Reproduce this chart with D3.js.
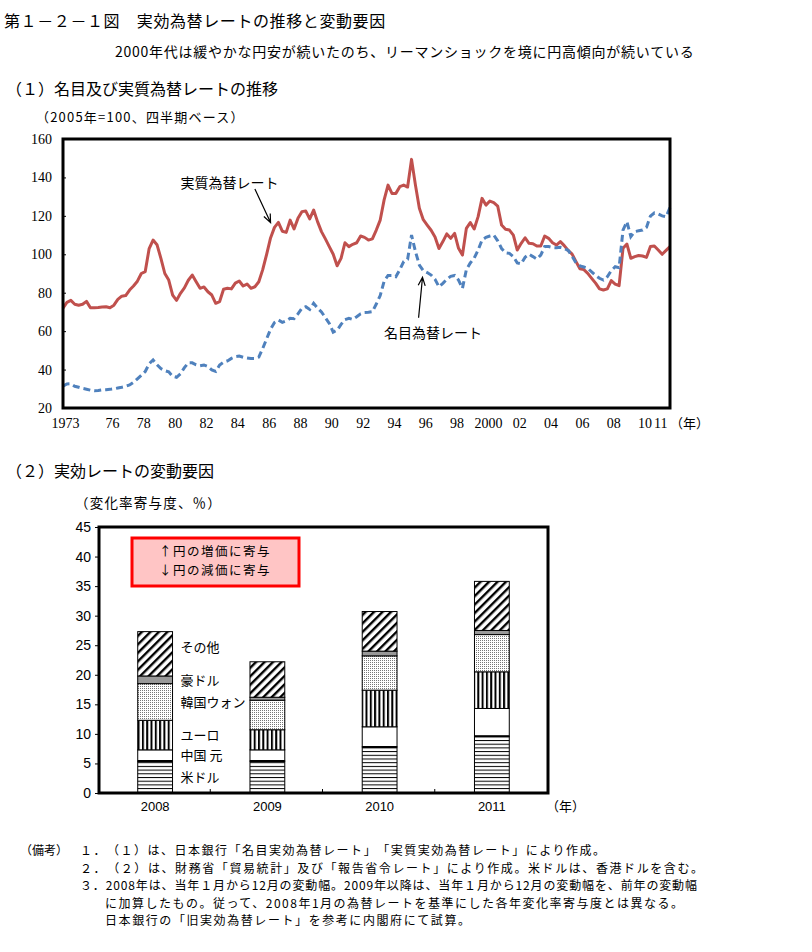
<!DOCTYPE html>
<html>
<head>
<meta charset="utf-8">
<script src="https://d3js.org/d3.v7.min.js"></script>
<style>
  body { margin: 0; background: #fff; }
  text { font-family: "Noto Sans CJK JP", sans-serif; fill: #000; text-spacing-trim: space-all; }
  .num { font-family: "Liberation Serif", serif; }
</style>
</head>
<body>
<script>
// (1) quarterly rates, 1973Q1 - 2011Q4 (2005 = 100)
const realRate = [
  72, 75, 76, 74, 73.5, 74, 75.5, 72.2, 72.2, 72.3, 72.6, 72.7, 72.2, 73.5, 76.5, 78.2,
  78.5, 81.4, 83.5, 86, 90, 91, 103, 107.4, 105, 97.9, 90, 86.6, 78.8, 76, 79.7, 82.5,
  86.5, 89.2, 85.7, 82.3, 83, 80.5, 78.8, 74.5, 75.4, 81.8, 82.3, 82, 85, 86.1, 83.5, 84.5,
  82.3, 83.1, 85.7, 92, 100, 108.5, 114, 116.6, 112, 111.4, 117.8, 113.2, 118.7, 122.2, 122.5, 118.4,
  123, 117, 111.8, 108, 104, 100, 94, 97.9, 106, 104, 105.2, 106, 109.5, 108.8, 107.4, 108,
  112.6, 117.8, 128.3, 136, 131.7, 131.7, 135.2, 136, 135, 149.4, 136, 124, 118, 115.2, 112.5, 109,
  103, 106.6, 110.6, 108.3, 110.9, 103.1, 99.6, 113.5, 116.5, 113.2, 119.6, 129.1, 125.6, 127.7, 126.9, 125.1,
  115.2, 113, 112.6, 110, 102.2, 105.7, 108.6, 105.7, 105.5, 104.3, 104.3, 109.5, 108.3, 106, 104.8, 106.6,
  104.5, 102, 100.1, 96.2, 92.5, 92, 90.1, 87.5, 85, 82, 81.4, 82, 86.3, 84.5, 83.7, 103.1,
  105.3, 97.9, 98.8, 99.4, 99.1, 98.4, 104, 104.3, 102.2, 100, 102, 104
];
const nominalRate = [
  31.4, 32.5, 32.6, 31.3, 30.8, 30.2, 29.8, 29.3, 29, 29.1, 29.4, 29.5, 29.7, 30, 30.4, 30.8,
  31.3, 32, 33.4, 35.2, 37, 39, 43, 45, 42.5, 40.5, 39.4, 38.8, 36.5, 36, 37.8, 41,
  43.5, 43.5, 42.5, 42, 42.4, 41.6, 39.8, 39, 42.4, 43.8, 44.5, 45.8, 46.7, 47, 46.4, 46,
  45.8, 45.8, 46.5, 51, 56, 61, 64.5, 65.8, 64.6, 65.4, 66.7, 66.5, 69, 71.9, 72.7, 71.3,
  74.5, 72, 70, 67, 64, 59.5, 60.5, 63.5, 66, 66.7, 66.1, 67.5, 69, 69.7, 69.8, 70.1,
  74.1, 78.5, 86, 89, 89, 88.3, 92, 96.2, 97.4, 110, 101.4, 94.4, 91.5, 90.5, 89.2, 87,
  83.1, 84.9, 87, 88.5, 89, 86.6, 82.3, 92, 95.5, 98, 102.2, 107.4, 108.8, 109.5, 110, 107,
  103, 100.8, 100.5, 98.8, 95.5, 95, 98.5, 100, 98.8, 97.5, 99.6, 104, 104, 103.5, 103.4, 103.6,
  103.1, 102, 99, 95.5, 94, 93.4, 92.7, 90.8, 89, 87.5, 86.6, 88.3, 91.5, 93.5, 93, 112.6,
  117, 109.2, 111.8, 112.2, 112.6, 114, 119.9, 121.5, 121, 120, 119.5, 124.4
];
const xTickYears = [1973, 1976, 1978, 1980, 1982, 1984, 1986, 1988, 1990, 1992, 1994, 1996, 1998, 2000, 2002, 2004, 2006, 2008, 2010, 2011];
const xTickLabels = ["1973", "76", "78", "80", "82", "84", "86", "88", "90", "92", "94", "96", "98", "2000", "02", "04", "06", "08", "10", "11"];
const yTicks1 = [20, 40, 60, 80, 100, 120, 140, 160];

// (2) contributions to change, %
const barYears = ["2008", "2009", "2010", "2011"];
const currencies = ["米ドル", "中国 元", "ユーロ", "韓国ウォン", "豪ドル", "その他"];
const usd   = [5.4, 5.4, 7.8, 9.6];
const cny   = [1.9, 1.9, 3.4, 4.7];
const eur   = [5.0, 3.4, 6.2, 6.2];
const krw   = [6.2, 5.0, 5.8, 6.3];
const aud   = [1.3, 0.5, 0.8, 0.7];
const other = [7.5, 6.0, 6.7, 8.3];
const yTicks2 = [0, 5, 10, 15, 20, 25, 30, 35, 40, 45];

const notes = [
  "１．（１）は、日本銀行「名目実効為替レート」「実質実効為替レート」により作成。",
  "２．（２）は、財務省「貿易統計」及び「報告省令レート」により作成。米ドルは、香港ドルを含む。",
  "３．2008年は、当年１月から12月の変動幅。2009年以降は、当年１月から12月の変動幅を、前年の変動幅",
  "に加算したもの。従って、2008年1月の為替レートを基準にした各年変化率寄与度とは異なる。",
  "日本銀行の「旧実効為替レート」を参考に内閣府にて試算。"
];

const svg = d3.select("body").append("svg")
  .attr("width", 812).attr("height", 952);

// ---- headings
svg.append("text").attr("x", 4).attr("y", 27).style("font-size", "16px")
  .style("letter-spacing", "0.6px").text("第１－２－１図　実効為替レートの推移と変動要因");
svg.append("text").attr("x", 115).attr("y", 57).style("font-size", "14px")
  .style("letter-spacing", "0.75px")
  .text("2000年代は緩やかな円安が続いたのち、リーマンショックを境に円高傾向が続いている");
svg.append("text").attr("x", 6).attr("y", 95).style("font-size", "16px")
  .text("（１）名目及び実質為替レートの推移");
svg.append("text").attr("x", 36).attr("y", 122).style("font-size", "13px")
  .style("letter-spacing", "1.2px").text("（2005年=100、四半期ベース）");

// ---- chart 1
const x1 = d3.scaleLinear().domain([0, realRate.length - 1]).range([63, 670]);
const y1 = d3.scaleLinear().domain([20, 160]).range([408, 139]);

const yAxis1 = svg.append("g").attr("transform", "translate(63,0)")
  .call(d3.axisLeft(y1).tickValues(yTicks1).tickSize(-3).tickPadding(11));
yAxis1.select(".domain").remove();
yAxis1.selectAll("text").attr("class", "num").style("font-size", "14px");
yAxis1.selectAll("line").attr("stroke", "#000");

const xAxis1 = svg.append("g").attr("transform", "translate(2,408)")
  .call(d3.axisBottom(x1)
    .tickValues(xTickYears.map(yr => (yr - 1973) * 4))
    .tickFormat((d, i) => xTickLabels[i]).tickSize(0).tickPadding(10));
xAxis1.select(".domain").remove();
xAxis1.selectAll("text").attr("class", "num").style("font-size", "14px");
svg.append("text").attr("x", 670).attr("y", 428).style("font-size", "13px").text("（年）");

const line1 = d3.line().x((d, i) => x1(i)).y(d => y1(d));
svg.append("path").datum(realRate).attr("d", line1)
  .attr("fill", "none").attr("stroke", "#c0504d").attr("stroke-width", 3)
  .attr("stroke-linejoin", "round");
svg.append("path").datum(nominalRate).attr("d", line1)
  .attr("fill", "none").attr("stroke", "#4f81bd").attr("stroke-width", 3)
  .attr("stroke-dasharray", "7,4");

svg.append("rect").attr("x", 63).attr("y", 139).attr("width", 607).attr("height", 269)
  .attr("fill", "none").attr("stroke", "#000").attr("stroke-width", 3);

// annotations
function arrow(from, to) {
  const [x0, yA] = from, [xB, yB] = to;
  const ang = Math.atan2(yB - yA, xB - x0);
  const h = 9, s = 0.4;
  svg.append("path")
    .attr("d", `M${x0},${yA}L${xB},${yB}` +
      `M${xB - h * Math.cos(ang - s)},${yB - h * Math.sin(ang - s)}L${xB},${yB}` +
      `L${xB - h * Math.cos(ang + s)},${yB - h * Math.sin(ang + s)}`)
    .attr("fill", "none").attr("stroke", "#000").attr("stroke-width", 1.2);
}
svg.append("text").attr("x", x1(30)).attr("y", y1(134.5)).style("font-size", "14px").text("実質為替レート");
arrow([x1(49), y1(134)], [x1(53), y1(116.5)]);
svg.append("text").attr("x", x1(82)).attr("y", y1(56.5)).style("font-size", "14px").text("名目為替レート");
arrow([x1(90.8), y1(67)], [x1(91.8), y1(88)]);

// ---- chart 2
svg.append("text").attr("x", 6).attr("y", 477).style("font-size", "16px").text("（２）実効レートの変動要因");
svg.append("text").attr("x", 75).attr("y", 508).style("font-size", "13.5px")
  .style("letter-spacing", "1.2px").text("（変化率寄与度、％）");

const rows = barYears.map((yr, i) => ({
  year: yr, "米ドル": usd[i], "中国 元": cny[i], "ユーロ": eur[i],
  "韓国ウォン": krw[i], "豪ドル": aud[i], "その他": other[i]
}));
const stacked = d3.stack().keys(currencies)(rows);

const x2 = d3.scaleBand().domain(barYears).range([99, 548]).paddingInner(0.69).paddingOuter(0.345);
const y2 = d3.scaleLinear().domain([0, 45]).range([793, 527]);

const defs = svg.append("defs");
const ph = defs.append("pattern").attr("id", "pH").attr("patternUnits", "userSpaceOnUse")
  .attr("width", 6).attr("height", 3.7);
ph.append("rect").attr("width", 6).attr("height", 3.7).attr("fill", "#fff");
ph.append("rect").attr("width", 6).attr("height", 1).attr("fill", "#000");
const pv = defs.append("pattern").attr("id", "pV").attr("patternUnits", "userSpaceOnUse")
  .attr("width", 4.3).attr("height", 6);
pv.append("rect").attr("width", 4.3).attr("height", 6).attr("fill", "#fff");
pv.append("rect").attr("width", 2).attr("height", 6).attr("fill", "#000");
const pd = defs.append("pattern").attr("id", "pD").attr("patternUnits", "userSpaceOnUse")
  .attr("width", 2).attr("height", 2);
pd.append("rect").attr("width", 2).attr("height", 2).attr("fill", "#fff");
pd.append("rect").attr("width", 1).attr("height", 1).attr("fill", "#777");
const pg = defs.append("pattern").attr("id", "pG").attr("patternUnits", "userSpaceOnUse")
  .attr("width", 2).attr("height", 2);
pg.append("rect").attr("width", 2).attr("height", 2).attr("fill", "#999");
const pdg = defs.append("pattern").attr("id", "pDiag").attr("patternUnits", "userSpaceOnUse")
  .attr("width", 6).attr("height", 6).attr("patternTransform", "rotate(45)");
pdg.append("rect").attr("width", 6).attr("height", 6).attr("fill", "#fff");
pdg.append("rect").attr("width", 2.4).attr("height", 6).attr("fill", "#000");

const fills = ["url(#pH)", "#fff", "url(#pV)", "url(#pD)", "url(#pG)", "url(#pDiag)"];

svg.append("g").selectAll("g").data(stacked).join("g")
  .attr("fill", (d, i) => fills[i])
  .selectAll("rect").data(d => d).join("rect")
  .attr("x", d => x2(d.data.year))
  .attr("y", d => y2(d[1]))
  .attr("width", x2.bandwidth())
  .attr("height", d => y2(d[0]) - y2(d[1]))
  .attr("stroke", "#000").attr("stroke-width", 1);

// thicker line on top of the 米ドル block
svg.append("g").selectAll("line").data(stacked[0]).join("line")
  .attr("x1", d => x2(d.data.year)).attr("x2", d => x2(d.data.year) + x2.bandwidth())
  .attr("y1", d => y2(d[1])).attr("y2", d => y2(d[1]))
  .attr("stroke", "#000").attr("stroke-width", 2);

// currency labels beside the 2008 bar
svg.append("g").selectAll("text").data(stacked).join("text")
  .attr("x", x2("2008") + x2.bandwidth() + 8)
  .attr("y", (d, i) => y2((d[0][0] + d[0][1]) / 2) + 5 - (i === 5 ? 7 : 0))
  .style("font-size", "13px")
  .text(d => d.key);

const yAxis2 = svg.append("g").attr("transform", "translate(99,0)")
  .call(d3.axisLeft(y2).tickValues(yTicks2).tickSize(4).tickPadding(4));
yAxis2.select(".domain").remove();
yAxis2.selectAll("text").style("font-size", "14px").style("font-family", "Liberation Sans, sans-serif");

const xAxis2 = svg.append("g").attr("transform", "translate(0,793)")
  .call(d3.axisBottom(x2).tickSize(0).tickPadding(9));
xAxis2.select(".domain").remove();
xAxis2.selectAll("text").style("font-size", "13px").style("font-family", "Liberation Sans, sans-serif");
svg.append("text").attr("x", 546).attr("y", 811).style("font-size", "13px").text("（年）");

// category dividers
svg.append("g").selectAll("line").data(barYears.slice(1)).join("line")
  .attr("x1", d => x2(d) - x2.step() * x2.paddingInner() / 2 - 1)
  .attr("x2", d => x2(d) - x2.step() * x2.paddingInner() / 2 - 1)
  .attr("y1", 793).attr("y2", 789).attr("stroke", "#000");

svg.append("rect").attr("x", 99).attr("y", 527).attr("width", 449).attr("height", 266)
  .attr("fill", "none").attr("stroke", "#000").attr("stroke-width", 3);

// red note box
svg.append("rect").attr("x", 132).attr("y", 538).attr("width", 167).attr("height", 48)
  .attr("fill", "#ffc5c5").attr("stroke", "#ff0000").attr("stroke-width", 3);
svg.append("text").attr("x", 215).attr("y", 556).attr("text-anchor", "middle")
  .style("font-size", "12.5px").style("letter-spacing", "1.5px").text("↑円の増価に寄与");
svg.append("text").attr("x", 215).attr("y", 575).attr("text-anchor", "middle")
  .style("font-size", "12.5px").style("letter-spacing", "1.5px").text("↓円の減価に寄与");

// ---- notes
svg.append("text").attr("x", 20).attr("y", 855).style("font-size", "12px").text("（備考）");
const noteX = [80, 80, 80, 105, 105];
const noteLen = [525, 623, 617, 578, 365];
notes.forEach((t, i) => {
  svg.append("text").attr("x", noteX[i]).attr("y", 855 + i * 17.5)
    .attr("textLength", noteLen[i]).attr("lengthAdjust", "spacing")
    .style("font-size", "12px").text(t);
});
</script>
</body>
</html>
